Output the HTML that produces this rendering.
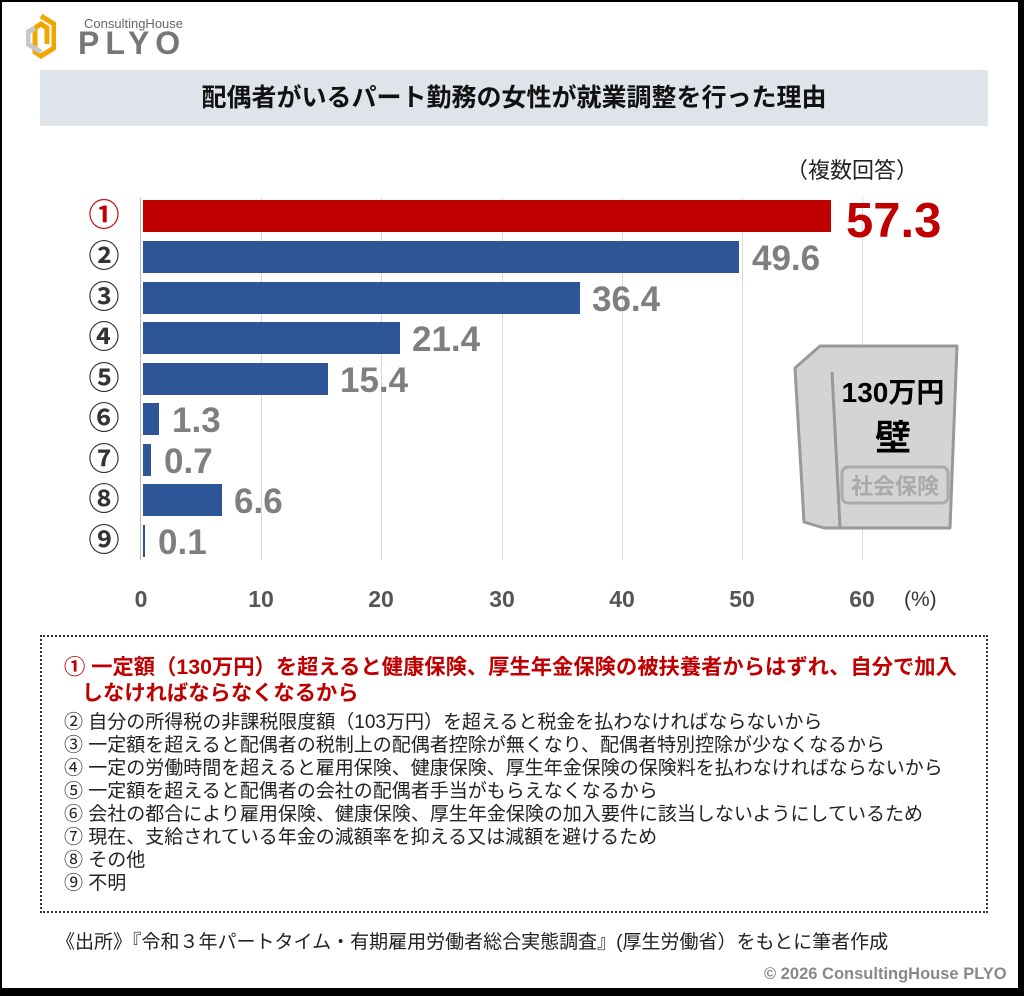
<!DOCTYPE html>
<html><head><meta charset="utf-8"><style>
*{margin:0;padding:0;box-sizing:border-box}
body{width:1024px;height:996px;background:#000;position:relative;overflow:hidden;font-family:"Liberation Sans","Noto Sans CJK JP",sans-serif}
#pg{position:absolute;left:2px;top:2px;width:1016px;height:986px;background:#fff}
.a{position:absolute;white-space:nowrap}
.bar{position:absolute;left:141px;height:32px;background:#2e5597}
.v{position:absolute;font-weight:bold;color:#7f7f7f;font-size:35px;line-height:32px}
.n{position:absolute;left:82px;width:40px;text-align:center;font-size:31px;font-weight:bold;line-height:32px;color:#333}
.g{position:absolute;top:196px;width:1px;height:362px;background:#d9d9d9}
.t{position:absolute;top:584px;font-size:23px;font-weight:bold;color:#555;width:60px;text-align:center}
.l{position:absolute;left:62px;font-size:19px;color:#222;line-height:22px}
</style></head><body><div id="pg">
<svg class="a" style="left:24px;top:12px" width="30" height="46" viewBox="0 0 30 46"><path d="M15 2 L28 10 L28 34 L15 42 L9 38 L9 14 L15 10 L21 14 L21 30" fill="none" stroke="#f0a800" stroke-width="5"/><path d="M9 14 L2 18 L2 30 L15 38" fill="none" stroke="#c8c8c8" stroke-width="5"/></svg>
<div class="a" style="left:82px;top:14px;font-size:13px;color:#666">ConsultingHouse</div>
<div class="a" style="left:76px;top:26px;font-size:32px;font-weight:bold;color:#777;letter-spacing:6px;line-height:30px">PLYO</div>
<div class="a" style="left:38px;top:68px;width:948px;height:56px;background:#dfe3ea;text-align:center;font-size:25px;font-weight:bold;line-height:56px;color:#111">配偶者がいるパート勤務の女性が就業調整を行った理由</div>
<div class="a" style="left:784px;top:151px;font-size:22px;color:#222">（複数回答）</div>
<div class="g" style="left:259px"></div><div class="g" style="left:379px"></div><div class="g" style="left:500px"></div><div class="g" style="left:620px"></div><div class="g" style="left:740px"></div><div class="g" style="left:860px"></div>
<div class="a" style="left:138px;top:196px;width:1px;height:362px;background:#bbb"></div>
<div class="bar" style="top:198px;width:688px;background:#c00000"></div>
<div class="bar" style="top:239px;width:596px"></div>
<div class="bar" style="top:280px;width:437px"></div>
<div class="bar" style="top:320px;width:257px"></div>
<div class="bar" style="top:361px;width:185px"></div>
<div class="bar" style="top:401px;width:16px"></div>
<div class="bar" style="top:442px;width:8px"></div>
<div class="bar" style="top:482px;width:79px"></div>
<div class="bar" style="top:523px;width:2px"></div>
<div class="v" style="left:844px;top:197px;font-size:49px;color:#c00000;line-height:44px">57.3</div>
<div class="v" style="left:750px;top:241px">49.6</div>
<div class="v" style="left:590px;top:282px">36.4</div>
<div class="v" style="left:410px;top:322px">21.4</div>
<div class="v" style="left:338px;top:363px">15.4</div>
<div class="v" style="left:170px;top:403px">1.3</div>
<div class="v" style="left:162px;top:444px">0.7</div>
<div class="v" style="left:232px;top:484px">6.6</div>
<div class="v" style="left:156px;top:525px">0.1</div>
<div class="n" style="top:198px;color:#c00000">①</div>
<div class="n" style="top:239px">②</div><div class="n" style="top:280px">③</div><div class="n" style="top:320px">④</div><div class="n" style="top:361px">⑤</div><div class="n" style="top:401px">⑥</div><div class="n" style="top:442px">⑦</div><div class="n" style="top:482px">⑧</div><div class="n" style="top:523px">⑨</div>
<div class="t" style="left:109px">0</div><div class="t" style="left:229px">10</div><div class="t" style="left:349px">20</div><div class="t" style="left:470px">30</div><div class="t" style="left:590px">40</div><div class="t" style="left:710px">50</div><div class="t" style="left:830px">60</div>
<div class="a" style="left:902px;top:586px;font-size:21px;color:#333">(%)</div>
<svg class="a" style="left:790px;top:340px" width="170" height="190" viewBox="0 0 170 190"><path d="M28 4 L165 4 L158 186 L32 186 L12 180 L3 26 Z" fill="#d4d4d4" stroke="#999" stroke-width="3" stroke-linejoin="round"/><path d="M40 30 L48 185" stroke="#999" stroke-width="3"/><rect x="50" y="125" width="106" height="36" rx="6" fill="none" stroke="#aaa" stroke-width="3"/><text x="103" y="152" text-anchor="middle" font-size="22" font-weight="bold" fill="#aaa" font-family="Liberation Sans,Noto Sans CJK JP,sans-serif">社会保険</text><text x="101" y="60" text-anchor="middle" font-size="28" font-weight="bold" fill="#000" font-family="Liberation Sans,Noto Sans CJK JP,sans-serif">130万円</text><text x="101" y="108" text-anchor="middle" font-size="36" font-weight="bold" fill="#000" font-family="Liberation Sans,Noto Sans CJK JP,sans-serif">壁</text></svg>
<div class="a" style="left:38px;top:633px;width:948px;height:278px;border:2px dotted #333"></div>
<div class="a" style="left:62px;top:652px;font-size:21.3px;font-weight:bold;color:#c00000;line-height:26px">① 一定額（130万円）を超えると健康保険、厚生年金保険の被扶養者からはずれ、自分で加入<br>&nbsp;&nbsp;&nbsp;しなければならなくなるから</div>
<div class="l" style="top:710px">② 自分の所得税の非課税限度額（103万円）を超えると税金を払わなければならないから</div>
<div class="l" style="top:733px">③ 一定額を超えると配偶者の税制上の配偶者控除が無くなり、配偶者特別控除が少なくなるから</div>
<div class="l" style="top:756px">④ 一定の労働時間を超えると雇用保険、健康保険、厚生年金保険の保険料を払わなければならないから</div>
<div class="l" style="top:779px">⑤ 一定額を超えると配偶者の会社の配偶者手当がもらえなくなるから</div>
<div class="l" style="top:802px">⑥ 会社の都合により雇用保険、健康保険、厚生年金保険の加入要件に該当しないようにしているため</div>
<div class="l" style="top:825px">⑦ 現在、支給されている年金の減額率を抑える又は減額を避けるため</div>
<div class="l" style="top:848px">⑧ その他</div>
<div class="l" style="top:871px">⑨ 不明</div>
<div class="a" style="left:54px;top:925px;font-size:19px;color:#222">《出所》『令和３年パートタイム・有期雇用労働者総合実態調査』(厚生労働省）をもとに筆者作成</div>
<div class="a" style="left:762px;top:963px;font-size:16.5px;font-weight:bold;color:#888">© 2026 ConsultingHouse PLYO</div>
</div></body></html>
